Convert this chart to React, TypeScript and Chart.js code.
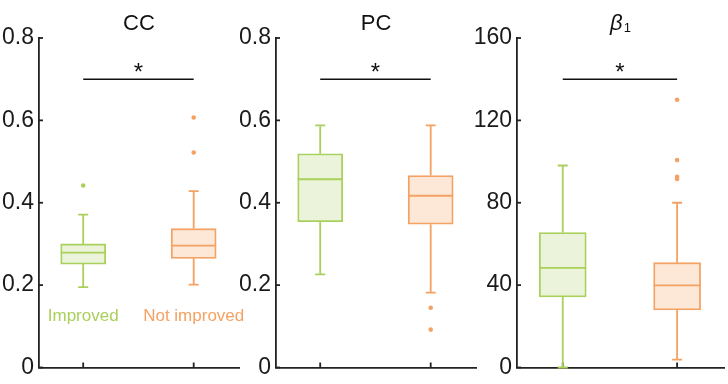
import React, { useEffect, useRef } from 'react';
import { Chart, registerables } from 'chart.js';

Chart.register(...registerables);

// ---------- data ----------
const groups = ['Improved', 'Not improved'];
const groupPositions = [0, 1];

// CC panel
const ccLow = [0.195, 0.201];
const ccQ1 = [0.251, 0.265];
const ccMedian = [0.279, 0.296];
const ccQ3 = [0.3, 0.337];
const ccHigh = [0.371, 0.428];
const ccOutliersImproved = [0.442];
const ccOutliersNotImproved = [0.607, 0.522];
const ccTicks = [0, 0.2, 0.4, 0.6, 0.8];
const ccSignificance = 0.7;

// PC panel
const pcLow = [0.226, 0.182];
const pcQ1 = [0.354, 0.348];
const pcMedian = [0.457, 0.417];
const pcQ3 = [0.519, 0.466];
const pcHigh = [0.588, 0.588];
const pcOutliersImproved: number[] = [];
const pcOutliersNotImproved = [0.145, 0.092];
const pcTicks = [0, 0.2, 0.4, 0.6, 0.8];
const pcSignificance = 0.7;

// beta1 panel
const betaLow = [0, 3.8];
const betaQ1 = [34.3, 27.9];
const betaMedian = [48.4, 39.9];
const betaQ3 = [65.5, 50.9];
const betaHigh = [98.1, 80];
const betaOutliersImproved: number[] = [];
const betaOutliersNotImproved = [130, 100.7, 92.6, 91.5];
const betaTicks = [0, 40, 80, 120, 160];
const betaSignificance = 140;

// ---------- styles ----------
const FONT = '"Liberation Sans", Arial, Helvetica, sans-serif';
const GREEN = '#a9d05a';
const GREEN_FILL = '#ebf4da';
const ORANGE = '#f4a263';
const ORANGE_FILL = '#fde7d6';
const AXIS = '#222222';
const LW = 1.8;
const lineColors = [GREEN, ORANGE];
const fillColors = [GREEN_FILL, ORANGE_FILL];

type Panel = {
  title: string;
  sub?: string;
  low: number[];
  q1: number[];
  median: number[];
  q3: number[];
  high: number[];
  outliers: number[][];
  ticks: number[];
  sig: number;
  padLeft: number;
  yWidth: number;
  padRight: number;
  boxWidth: number;
  showGroupLabels: boolean;
};

const panels: Panel[] = [
  {
    title: 'CC', low: ccLow, q1: ccQ1, median: ccMedian, q3: ccQ3, high: ccHigh,
    outliers: [ccOutliersImproved, ccOutliersNotImproved], ticks: ccTicks, sig: ccSignificance,
    padLeft: 0, yWidth: 39, padRight: 489, boxWidth: 45, showGroupLabels: true,
  },
  {
    title: 'PC', low: pcLow, q1: pcQ1, median: pcMedian, q3: pcQ3, high: pcHigh,
    outliers: [pcOutliersImproved, pcOutliersNotImproved], ticks: pcTicks, sig: pcSignificance,
    padLeft: 240, yWidth: 36, padRight: 252, boxWidth: 45, showGroupLabels: false,
  },
  {
    title: 'β', sub: '1', low: betaLow, q1: betaQ1, median: betaMedian, q3: betaQ3, high: betaHigh,
    outliers: [betaOutliersImproved, betaOutliersNotImproved], ticks: betaTicks, sig: betaSignificance,
    padLeft: 474, yWidth: 43, padRight: 1, boxWidth: 47, showGroupLabels: false,
  },
];

function fmt(v: number): string {
  return String(Math.round(v * 1000) / 1000);
}

function PanelChart({ p }: { p: Panel }) {
  const ref = useRef<HTMLCanvasElement | null>(null);
  useEffect(() => {
    if (!ref.current) return;

    const outlierPoints: { x: number; y: number }[] = [];
    const outlierColors: string[] = [];
    p.outliers.forEach((arr, gi) => {
      arr.forEach((v) => {
        outlierPoints.push({ x: groupPositions[gi], y: v });
        outlierColors.push(lineColors[gi]);
      });
    });

    const extras = {
      id: 'boxExtras',
      beforeDatasetsDraw(chart: any) {
        const { ctx, chartArea, scales } = chart;
        const x = scales.x;
        const y = scales.y;
        ctx.save();
        ctx.strokeStyle = AXIS;
        ctx.lineWidth = LW;
        // inward y ticks
        p.ticks.forEach((t) => {
          const py = y.getPixelForValue(t);
          ctx.beginPath();
          ctx.moveTo(chartArea.left, py);
          ctx.lineTo(chartArea.left + 4, py);
          ctx.stroke();
        });
        // inward x ticks
        groupPositions.forEach((g) => {
          const px = x.getPixelForValue(g);
          ctx.beginPath();
          ctx.moveTo(px, chartArea.bottom);
          ctx.lineTo(px, chartArea.bottom - 5);
          ctx.stroke();
        });
        ctx.restore();
      },
      afterDatasetsDraw(chart: any) {
        const { ctx, chartArea, scales } = chart;
        const x = scales.x;
        const y = scales.y;
        ctx.save();
        ctx.lineWidth = LW;
        ctx.lineCap = 'butt';
        groupPositions.forEach((g, i) => {
          const cx = x.getPixelForValue(g);
          const half = p.boxWidth / 2;
          const cap = 5;
          ctx.strokeStyle = lineColors[i];
          const yHigh = y.getPixelForValue(p.high[i]);
          const yQ3 = y.getPixelForValue(p.q3[i]);
          const yQ1 = y.getPixelForValue(p.q1[i]);
          const yLow = y.getPixelForValue(p.low[i]);
          const yMed = y.getPixelForValue(p.median[i]);
          ctx.beginPath();
          ctx.moveTo(cx, yQ3);
          ctx.lineTo(cx, yHigh);
          ctx.moveTo(cx - cap, yHigh);
          ctx.lineTo(cx + cap, yHigh);
          ctx.moveTo(cx, yQ1);
          ctx.lineTo(cx, yLow);
          ctx.moveTo(cx - cap, yLow);
          ctx.lineTo(cx + cap, yLow);
          ctx.moveTo(cx - half, yMed);
          ctx.lineTo(cx + half, yMed);
          ctx.stroke();
        });

        // significance bar
        const sy = y.getPixelForValue(p.sig);
        const x0 = x.getPixelForValue(groupPositions[0]);
        const x1 = x.getPixelForValue(groupPositions[1]);
        ctx.strokeStyle = '#111111';
        ctx.lineWidth = 1.6;
        ctx.beginPath();
        ctx.moveTo(x0, sy);
        ctx.lineTo(x1, sy);
        ctx.stroke();
        ctx.fillStyle = '#111111';
        ctx.font = `24px ${FONT}`;
        ctx.textAlign = 'center';
        ctx.textBaseline = 'alphabetic';
        ctx.fillText('*', (x0 + x1) / 2, sy + 1);

        // group labels
        if (p.showGroupLabels) {
          ctx.font = `17px ${FONT}`;
          groupPositions.forEach((g, i) => {
            ctx.fillStyle = lineColors[i];
            ctx.fillText(groups[i], x.getPixelForValue(g), chartArea.bottom - 47);
          });
        }

        // title
        const cxTitle = (chartArea.left + chartArea.right) / 2;
        ctx.fillStyle = '#111111';
        ctx.textAlign = 'left';
        if (p.sub) {
          ctx.font = `italic 22px ${FONT}`;
          const w1 = ctx.measureText(p.title).width;
          ctx.font = `13px ${FONT}`;
          const w2 = ctx.measureText(p.sub).width;
          const start = cxTitle - (w1 + w2 + 1) / 2;
          ctx.font = `italic 22px ${FONT}`;
          ctx.fillText(p.title, start, 30);
          ctx.font = `13px ${FONT}`;
          ctx.fillText(p.sub, start + w1 + 1, 32);
        } else {
          ctx.font = `22px ${FONT}`;
          ctx.textAlign = 'center';
          ctx.fillText(p.title, cxTitle, 30);
        }
        ctx.restore();
      },
    };

    const chart = new Chart(ref.current, {
      type: 'bar',
      data: {
        datasets: [
          {
            type: 'bar',
            data: groupPositions.map((g, i) => ({ x: g, y: [p.q1[i], p.q3[i]] })) as any,
            backgroundColor: fillColors,
            borderColor: lineColors,
            borderWidth: LW,
            borderSkipped: false,
            barThickness: p.boxWidth,
          } as any,
          {
            type: 'scatter',
            data: outlierPoints,
            pointRadius: 2.3,
            pointBorderWidth: 0,
            pointBackgroundColor: outlierColors,
            pointBorderColor: outlierColors,
          } as any,
        ],
      },
      options: {
        responsive: false,
        animation: false,
        devicePixelRatio: 1,
        events: [],
        layout: { padding: { left: p.padLeft, right: p.padRight, top: 38, bottom: 0 } },
        plugins: { legend: { display: false }, tooltip: { enabled: false }, title: { display: false } },
        scales: {
          x: {
            type: 'linear',
            min: -0.4,
            max: 1.41,
            offset: false,
            grid: { display: true, drawOnChartArea: false, drawTicks: false },
            border: { display: true, color: AXIS, width: LW },
            ticks: { display: false },
            afterFit: (s: any) => { s.height = 12; },
          },
          y: {
            type: 'linear',
            min: p.ticks[0],
            max: p.ticks[p.ticks.length - 1],
            grid: { display: true, drawOnChartArea: false, drawTicks: false },
            border: { display: true, color: AXIS, width: LW },
            afterBuildTicks: (s: any) => { s.ticks = p.ticks.map((v) => ({ value: v })); },
            ticks: {
              padding: 5,
              color: '#1a1a1a',
              font: { family: FONT, size: 23, lineHeight: 1 },
              callback: (v: any) => fmt(Number(v)),
            },
            afterFit: (s: any) => { s.width = p.yWidth; },
          },
        },
      } as any,
      plugins: [extras],
    });
    return () => chart.destroy();
  }, [p]);

  return (
    <canvas
      ref={ref}
      width={728}
      height={384}
      style={{ position: 'absolute', left: 0, top: 0, width: 728, height: 384 }}
    />
  );
}

export default function App() {
  return (
    <div style={{ position: 'fixed', left: 0, top: 0, width: 728, height: 384, background: '#ffffff' }}>
      {panels.map((p, i) => (
        <PanelChart key={i} p={p} />
      ))}
    </div>
  );
}
